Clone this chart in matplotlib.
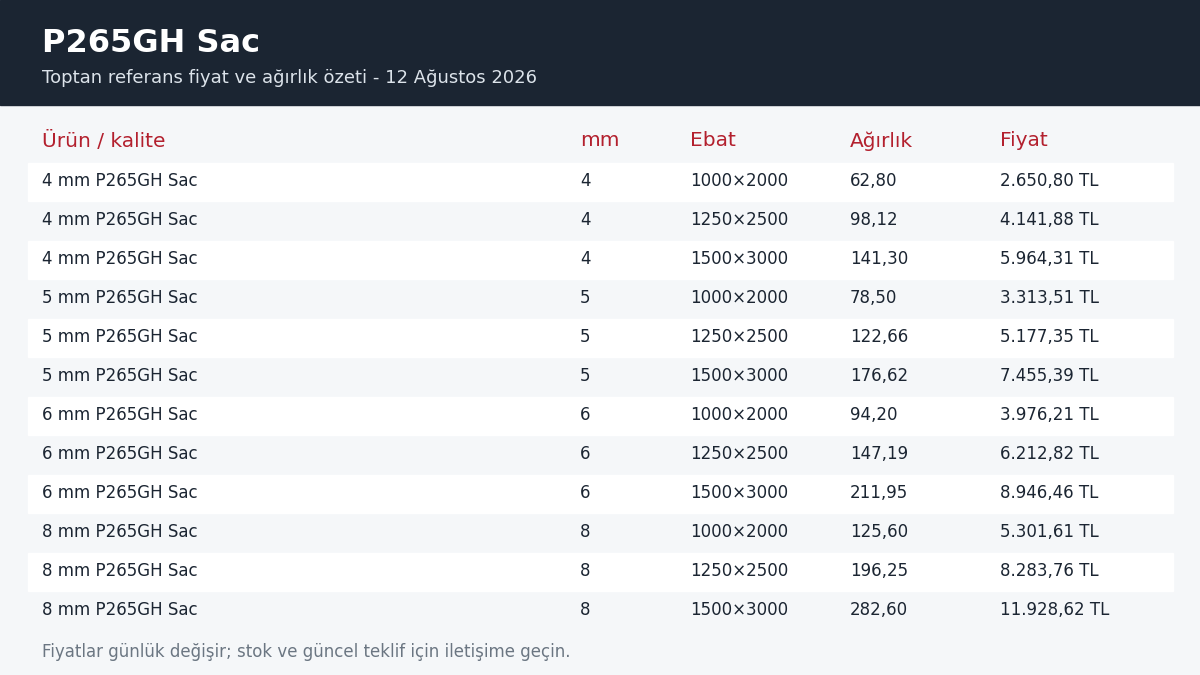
import matplotlib
matplotlib.use("Agg")
import matplotlib.pyplot as plt
from matplotlib.patches import Rectangle

title = "P265GH Sac"
subtitle = "Toptan referans fiyat ve ağırlık özeti - 12 Ağustos 2026"
footer = "Fiyatlar günlük değişir; stok ve güncel teklif için iletişime geçin."
headers = ["Ürün / kalite", "mm", "Ebat", "Ağırlık", "Fiyat"]

products = ["4 mm P265GH Sac"] * 3 + ["5 mm P265GH Sac"] * 3 + ["6 mm P265GH Sac"] * 3 + ["8 mm P265GH Sac"] * 3
thickness = ["4", "4", "4", "5", "5", "5", "6", "6", "6", "8", "8", "8"]
sizes = ["1000×2000", "1250×2500", "1500×3000"] * 4
weights = ["62,80", "98,12", "141,30", "78,50", "122,66", "176,62",
           "94,20", "147,19", "211,95", "125,60", "196,25", "282,60"]
prices = ["2.650,80 TL", "4.141,88 TL", "5.964,31 TL", "3.313,51 TL", "5.177,35 TL",
          "7.455,39 TL", "3.976,21 TL", "6.212,82 TL", "8.946,46 TL", "5.301,61 TL",
          "8.283,76 TL", "11.928,62 TL"]

col_x = [42, 580, 690, 850, 1000]
bg = "#f5f7f9"
dark = "#1b2532"
red = "#b3202e"
text_col = "#1b2532"

fig = plt.figure(figsize=(12, 6.75), dpi=100, facecolor=bg)
ax = fig.add_axes([0, 0, 1, 1])
ax.set_xlim(0, 1200)
ax.set_ylim(675, 0)
ax.axis("off")

ax.add_patch(Rectangle((0, 0), 1200, 105, color=dark))
ax.text(42, 43, title, color="white", fontsize=23, fontweight="bold", va="center")
ax.text(42, 78, subtitle, color="#dce3ea", fontsize=13, va="center")

for x, h in zip(col_x, headers):
    ax.text(x, 141, h, color=red, fontsize=14.5, va="center")

pitch = 39
for i in range(len(products)):
    yc = 181 + i * pitch
    if i % 2 == 0:
        ax.add_patch(Rectangle((28, yc - 18), 1145, 38, color="white"))
    row = [products[i], thickness[i], sizes[i], weights[i], prices[i]]
    for x, v in zip(col_x, row):
        ax.text(x, yc, v, color=text_col, fontsize=12, va="center")

ax.text(42, 652, footer, color="#6b7682", fontsize=12, va="center")

fig.savefig("out.png", dpi=100, facecolor=bg)
